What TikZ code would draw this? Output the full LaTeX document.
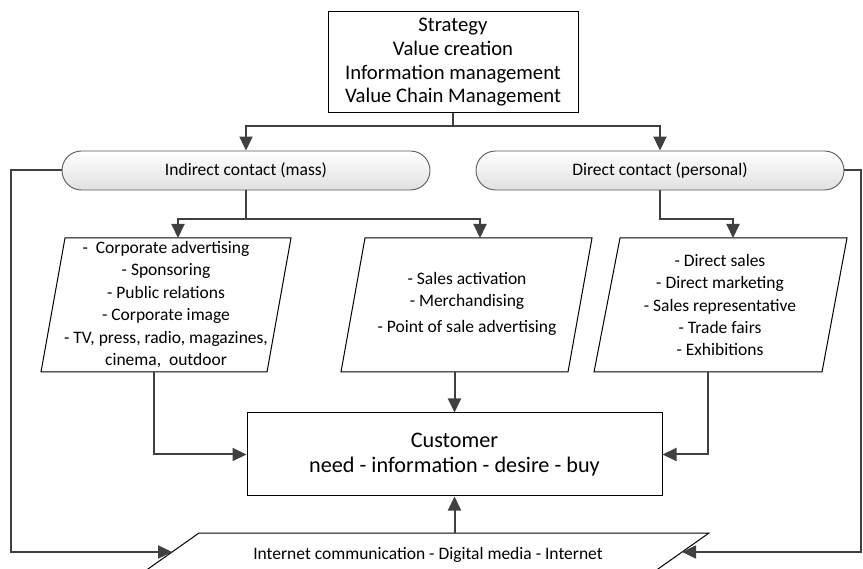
\documentclass[tikz,border=0pt]{standalone}
\usepackage{fontspec}
\setmainfont{Carlito}
\usetikzlibrary{arrows.meta,calc}
\definecolor{conncol}{HTML}{404040}
\tikzset{
 conn/.style={draw=conncol, line width=2pt, -{Triangle[length=14pt,width=13pt]}},
 plainline/.style={draw=conncol, line width=2pt},
 boxnode/.style={draw=black, line width=1pt, fill=white, align=center, inner sep=0pt},
 pill/.style={draw=black!65, line width=0.9pt, rounded corners=19.5pt, top color=white, bottom color=black!12, minimum width=368pt, minimum height=39pt, inner sep=0pt, font=\fontsize{17.5}{21}\selectfont},
 parashape/.style={draw=black, line width=1pt, fill=white},
 paratext/.style={align=center, inner sep=0pt, font=\fontsize{17.5}{22.4}\selectfont},
}
\begin{document}
\begin{tikzpicture}[x=1pt,y=-1pt]
\useasboundingbox (0,0) rectangle (863,569);

% top box
\node[boxnode, minimum width=250pt, minimum height=101pt, font=\fontsize{20.7}{23.7}\selectfont] (top) at (453,62.5)
  {Strategy\\Value creation\\Information management\\Value Chain Management};

% pills
\node[pill] (ind) at (246,170.5) {Indirect contact (mass)};
\node[pill] (dir) at (660,170.5) {Direct contact (personal)};

% parallelograms
\draw[parashape] (65,238) -- (291,238) -- (267,372) -- (41,372) -- cycle;
\draw[parashape] (365,238) -- (592,238) -- (568,372) -- (341,372) -- cycle;
\draw[parashape] (620,238) -- (847,238) -- (822,372) -- (594,372) -- cycle;
\coordinate (lpT) at (178,238); \coordinate (lpB) at (154,372);
\coordinate (mpT) at (480,238); \coordinate (mpB) at (454.5,372);
\coordinate (rpT) at (733,238); \coordinate (rpB) at (708,372);

\node[paratext] (lp) at (166,304.5)
  {-~~Corporate advertising\\- Sponsoring\\- Public relations\\- Corporate image\\- TV, press, radio, magazines,\\cinema,~~outdoor};
\node[paratext] (mp) at (467,304)
  {- Sales activation\\- Merchandising\\[4pt]- Point of sale advertising};
\node[paratext] (rp) at (720,305)
  {- Direct sales\\- Direct marketing\\- Sales representative\\- Trade fairs\\- Exhibitions};

% customer
\node[boxnode, minimum width=415pt, minimum height=83pt, font=\fontsize{22.2}{25}\selectfont] (cust) at (454.5,454.5)
  {Customer\\need - information - desire - buy};

% bottom parallelogram
\begin{scope}
\clip (0,0) rectangle (863,569);
\draw[parashape] (199,533) -- (709,533) -- (642.4,580) -- (132.4,580) -- cycle;
\end{scope}
\coordinate (ipT) at (454.5,533);
\coordinate (ipL) at (172.1,552);
\coordinate (ipR) at (682.1,552);
\node[inner sep=0pt, font=\fontsize{17.5}{21}\selectfont] (inet) at (428,555) {Internet communication - Digital media - Internet};

% connectors
\draw[plainline] (top.south) -- (top.south |- 0,126) coordinate (s1);
\draw[conn] (s1) -| (ind.north);
\draw[conn] (s1) -| (dir.north);

\draw[plainline] (ind.south) -- (ind.south |- 0,219) coordinate (s2);
\draw[conn] (s2) -| (lpT);
\draw[conn] (s2) -| (mpT);
\draw[conn] (dir.south) -- (dir.south |- 0,219) -| (rpT);

\draw[conn] (lpB) |- (cust.west);
\draw[conn] (mpB) -- (cust.north);
\draw[conn] (rpB) |- (cust.east);
\draw[conn] (ipT) -- (cust.south);

\draw[conn] (ind.west) -- (11,170.5) |- (ipL);
\draw[conn] (dir.east) -- (861,170.5) |- (ipR);
\end{tikzpicture}
\end{document}
